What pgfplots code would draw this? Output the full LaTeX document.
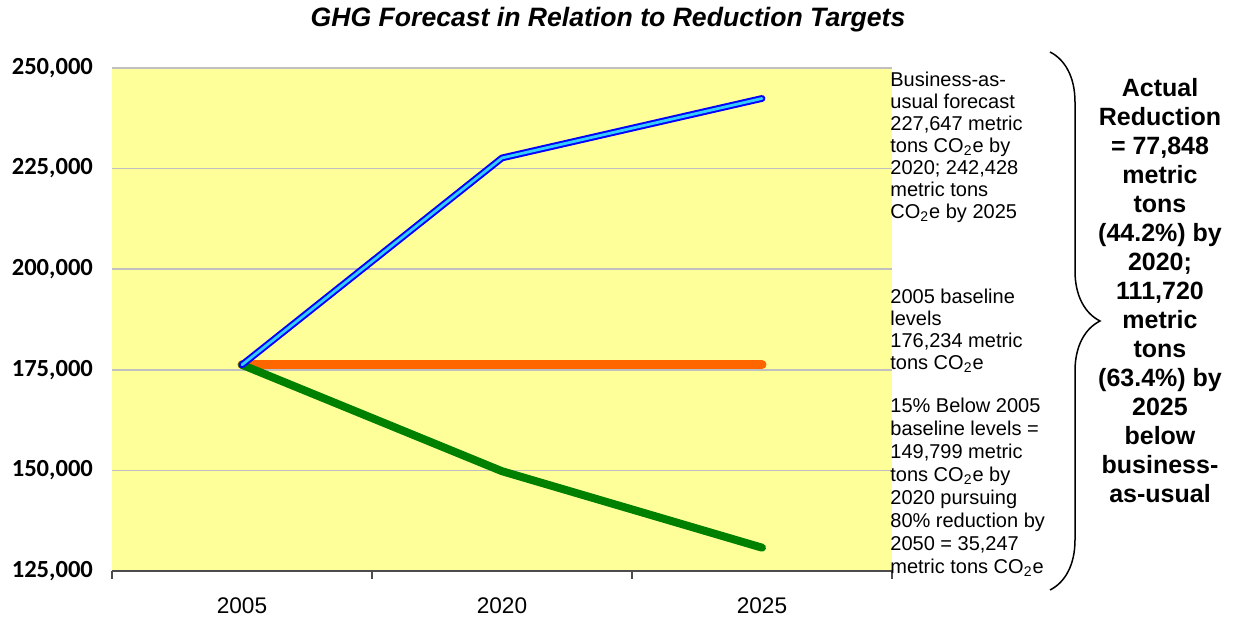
\documentclass[border=0pt]{standalone}
\usepackage{fontspec}
\setmainfont{Liberation Sans}
\newfontfamily\carlito{Carlito}
\usepackage{pgfplots}
\pgfplotsset{compat=1.18}
\usetikzlibrary{decorations.pathreplacing}
\definecolor{bg}{HTML}{FFFF99}
\definecolor{gridgray}{HTML}{C0C0C0}
\definecolor{bauline}{HTML}{0000FF}
\definecolor{bauinner}{HTML}{33CCFF}
\definecolor{baseorange}{HTML}{FF6600}
\definecolor{targetgreen}{HTML}{008000}

\begin{document}
\begin{tikzpicture}
\useasboundingbox (-56pt,-25pt) rectangle (560.5pt,285.5pt);
\begin{axis}[
  at={(0pt,0pt)}, anchor=south west,
  scale only axis, width=390pt, height=251.5pt,
  xmin=-0.5, xmax=2.5, ymin=125000, ymax=250000,
  xtick={0,1,2}, xticklabels={2005,2020,2025},
  minor xtick={-0.5,0.5,1.5,2.5},
  ytick={125000,150000,175000,200000,225000,250000},
  yticklabels={{125,000},{150,000},{175,000},{200,000},{225,000},{250,000}},
  scaled y ticks=false,
  ymajorgrids,
  major grid style={gridgray, line width=0.75pt},
  axis background/.style={fill=bg},
  axis x line*=bottom, axis y line*=left,
  y axis line style={draw=none},
  x axis line style={black!70, line width=0.75pt, -},
  tick align=outside,
  major tick length=0pt, minor tick length=4pt,
  minor x tick style={black!70, line width=0.75pt},
  y tick label style={font=\carlito\bfseries\fontsize{12.3}{12}\selectfont, xshift=-6pt},
  x tick label style={font=\fontsize{11.3}{12}\selectfont, yshift=-10pt},
  clip=false,
]
\addplot[baseorange, line width=4.5pt, line cap=round] coordinates {
  (0,176234)(1,176234)(2,176234)};
\addplot[targetgreen, line width=4pt, line cap=round, line join=round] coordinates {
  (0,176234)(1,149799)(2,130800)};
\addplot[bauline, line width=1pt, double=bauinner, double distance=1.4pt,
  line cap=round, line join=round] coordinates {
  (0,176234)(1,227647)(2,242428)};
\end{axis}

\node[font=\bfseries\itshape\fontsize{13.3}{15}\selectfont] at (248pt,275.5pt)
  {GHG Forecast in Relation to Reduction Targets};

\node[anchor=north west, inner sep=0pt, align=left, font=\fontsize{10}{11}\selectfont]
  at (389pt,249.5pt)
  {Business-as-\\usual forecast\\227,647 metric\\tons CO\textsubscript{2}e by\\2020; 242,428\\metric tons\\CO\textsubscript{2}e by 2025};
\node[anchor=north west, inner sep=0pt, align=left, font=\fontsize{10}{11}\selectfont]
  at (389pt,141pt)
  {2005 baseline\\levels\\176,234 metric\\tons CO\textsubscript{2}e};
\node[anchor=north west, inner sep=0pt, align=left, font=\fontsize{10}{11.5}\selectfont]
  at (389pt,86.5pt)
  {15\% Below 2005\\baseline levels =\\149,799 metric\\tons CO\textsubscript{2}e by\\2020 pursuing\\80\% reduction by\\2050 = 35,247\\metric tons CO\textsubscript{2}e};

\draw[line width=0.75pt, decorate, decoration={brace, amplitude=25pt}]
  (469pt,259.5pt) -- (469pt,-9.5pt);

\node[anchor=north, inner sep=0pt, align=center, font=\bfseries\fontsize{12.5}{14.5}\selectfont]
  at (524pt,246.5pt)
  {Actual\\Reduction\\= 77,848\\metric\\tons\\(44.2\%) by\\2020;\\111,720\\metric\\tons\\(63.4\%) by\\2025\\below\\business-\\as-usual};
\end{tikzpicture}
\end{document}
